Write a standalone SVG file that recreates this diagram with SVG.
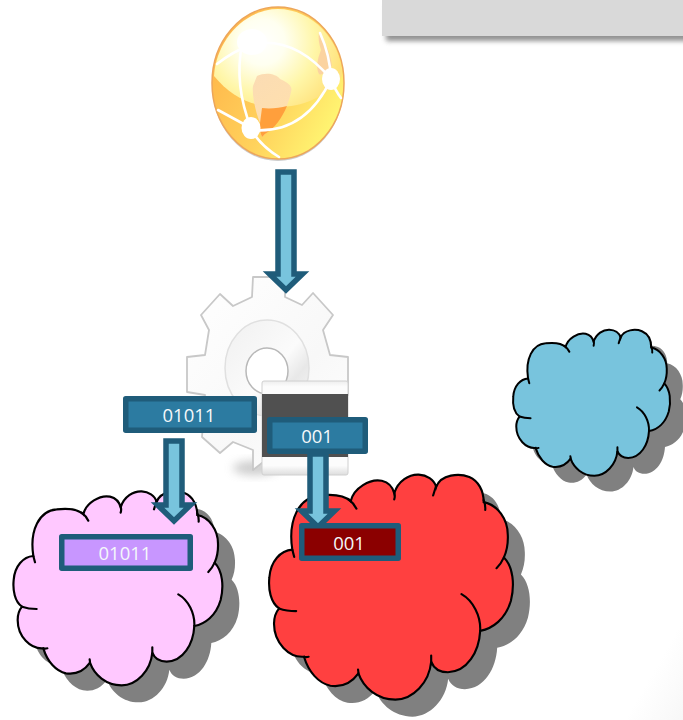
<svg xmlns="http://www.w3.org/2000/svg" width="683" height="720" viewBox="0 0 683 720">
<style>
.txt{font-family:"Open Sans","Liberation Sans",sans-serif;font-size:18.5px;fill:#f4f8fa;text-anchor:middle}
.box{stroke:#1f5c7a;stroke-width:5.5;stroke-linejoin:round}
.blue{fill:#2c7ba1}
.arrow{fill:#78c4dd;stroke:#1f5c7a;stroke-width:5.5;stroke-linejoin:miter;stroke-miterlimit:8}
.shadow{fill:#808080}
.net{fill:none;stroke:#fff;stroke-width:2.6;stroke-linecap:round}
</style>
<defs>
<path id="cloud" d="M100,228C88,150 118,92 170,88C205,84 235,88 250,103C258,68 300,44 330,50C346,54 358,66 362,82C372,50 400,33 425,34C445,35 465,46 470,66C482,32 530,30 555,40C578,50 592,75 592,105C628,112 654,150 654,190C655,212 652,230 644,248C668,272 672,320 662,360C648,408 615,432 583,438C580,492 550,544 500,545C480,545 464,536 457,518C452,572 410,616 365,616C318,616 283,585 270,548C250,576 225,584 198,580C168,574 142,545 130,505C92,508 53,470 53,420C53,405 56,392 66,380C44,365 38,330 41,300C44,258 70,230 100,228Z"/>
<path id="tails" fill="none" stroke-linecap="round" d="M100,228L105,247M245,98Q258,108 265,122M362,80Q365,88 362,98M470,62Q466,75 462,88M592,100Q597,112 596,125M644,248Q637,264 625,276M535,343C565,360 585,400 583,438M457,502L457,525M270,548Q270,544 269,538M130,505Q135,507 142,505M66,380Q85,387 110,387"/>
<filter id="blur3" x="-20%" y="-50%" width="140%" height="200%"><feGaussianBlur stdDeviation="2.500"/></filter>
<filter id="blur1" x="-20%" y="-20%" width="140%" height="140%"><feGaussianBlur stdDeviation="0.7"/></filter>
<filter id="blur6" x="-50%" y="-50%" width="200%" height="200%"><feGaussianBlur stdDeviation="5"/></filter>
<linearGradient id="globeBase" x1="0" y1="0.3" x2="1" y2="0.9"><stop offset="0" stop-color="#ffb64a"/><stop offset="0.5" stop-color="#ffd25c"/><stop offset="1" stop-color="#ffff78"/></linearGradient>
<radialGradient id="globeTop" gradientUnits="userSpaceOnUse" cx="262" cy="42" r="82"><stop offset="0" stop-color="#ffffff"/><stop offset="0.28" stop-color="#fffff0"/><stop offset="0.65" stop-color="#fff6a8"/><stop offset="1" stop-color="#ffe27c"/></radialGradient>
<linearGradient id="land" x1="0" y1="0" x2="0.5" y2="1"><stop offset="0" stop-color="#fbdcb4"/><stop offset="1" stop-color="#ffe0ac"/></linearGradient>
<linearGradient id="gearFill" x1="0" y1="0" x2="1" y2="1"><stop offset="0" stop-color="#ffffff"/><stop offset="0.6" stop-color="#f8f8f8"/><stop offset="1" stop-color="#ffffff"/></linearGradient>
<linearGradient id="ring" x1="0" y1="0" x2="1" y2="1"><stop offset="0" stop-color="#f0f0f0"/><stop offset="0.55" stop-color="#fbfbfb"/><stop offset="0.72" stop-color="#e8e8e8"/><stop offset="1" stop-color="#fafafa"/></linearGradient>
<linearGradient id="tile" x1="0" y1="0" x2="0" y2="1"><stop offset="0" stop-color="#eeeeee"/><stop offset="0.06" stop-color="#fcfcfc"/><stop offset="0.9" stop-color="#fcfcfc"/><stop offset="1" stop-color="#dddddd"/></linearGradient>
<linearGradient id="corner" gradientUnits="userSpaceOnUse" x1="654" y1="670" x2="704" y2="699"><stop offset="0" stop-color="#ffffff"/><stop offset="1" stop-color="#f6f6f6"/></linearGradient>
</defs>

<polygon points="683,620 683,720 625,720" fill="url(#corner)"/>

<g id="banner">
<rect x="386" y="6" width="310" height="35" fill="#777" opacity="0.8" filter="url(#blur3)"/>
<rect x="382" y="-5" width="310" height="41" fill="#d9d9d9"/>
</g>

<g id="globe">
<ellipse cx="278" cy="85" rx="66" ry="76" fill="#999" opacity="0.5" filter="url(#blur1)"/>
<ellipse cx="278" cy="83" rx="66" ry="76" fill="url(#globeBase)" stroke="#eda65a" stroke-width="1.5"/>
<path d="M214,76C216,40 245,9 278,9C312,9 341,40 342,76C325,98 302,107 278,107C254,107 232,98 214,76Z" fill="url(#globeTop)"/>
<path d="M257,76C266,72 276,74 280,79C289,83 293,87 291,92C288,108 280,120 272,127L262,137C260,133 260,128 260,123C255,110 252,95 253,86Z" fill="url(#land)"/>
<path d="M262,108C270,109 280,108 287,106C282,118 275,128 265,134L262,137C260,133 260,128 260,123Z" fill="#ff9f3c"/>
<path d="M319,32C325,40 331,55 332,66C325,72 322,76 319,74C316,68 317,60 321,50C319,44 318,38 319,32Z" fill="#fbd3a0"/>
<g class="net">
<path d="M217,64Q232,52 252,44Q295,36 331,79"/>
<path d="M242,44Q234,85 251,128"/>
<path d="M251,130Q305,135 331,79"/>
<path d="M218,110L251,128"/>
<path d="M251,130Q262,147 279,157"/>
<path d="M320,33Q330,55 331,79Q335,90 341,98"/>
</g>
<ellipse cx="252" cy="42" rx="15" ry="13" fill="#fff" filter="url(#blur1)"/>
<ellipse cx="331" cy="79" rx="9" ry="11" fill="#fff"/>
<ellipse cx="251" cy="128" rx="9.500" ry="11" fill="#fff"/>
</g>

<g id="gear">
<ellipse cx="255" cy="468" rx="22" ry="7" fill="#aaa" opacity="0.6" filter="url(#blur6)"/>
<path d="M253,277H285V297L302,305L313,293L333,315L323,330L330,355L348,357V395L330,410L253,470V450L233,442L220,453L202,437L205,395L187,392V357L205,355L209,330L201,315L220,294L233,306L252,297Z" fill="url(#gearFill)" stroke="#c8c8c8" stroke-width="1.800" stroke-linejoin="round" filter="url(#blur1)"/>
<ellipse cx="267" cy="368" rx="42" ry="48" fill="url(#ring)" stroke="#e0e0e0" stroke-width="1.500"/>
<ellipse cx="267" cy="371" rx="21" ry="23" fill="#fff" stroke="#b8b8b8" stroke-width="1.500"/>
<rect x="262" y="381" width="86" height="94" rx="2" fill="url(#tile)" stroke="#d0d0d0" stroke-width="1"/>
<rect x="262" y="394" width="86" height="63" fill="#505050"/>
</g>

<g id="cloud-blue">
<use href="#cloud" class="shadow" transform="translate(519 337) scale(0.2504 0.2509)"/>
<g fill="#78c4dd" stroke="#000" stroke-width="8" transform="translate(503 321.200) scale(0.2504 0.2509)"><use href="#cloud"/><use href="#tails"/></g>
</g>
<g id="cloud-pink">
<use href="#cloud" class="shadow" transform="translate(17 497) scale(0.3333)"/>
<g fill="#ffc8ff" stroke="#000" stroke-width="6.500" transform="translate(0 480) scale(0.3333)"><use href="#cloud"/><use href="#tails"/></g>
</g>
<g id="cloud-red">
<use href="#cloud" class="shadow" transform="translate(270.400 478.500) scale(0.389 0.3866)"/>
<g fill="#ff4040" stroke="#000" stroke-width="5.500" transform="translate(253.400 461.500) scale(0.389 0.3866)"><use href="#cloud"/><use href="#tails"/></g>
</g>

<g id="connectors">
<path class="arrow" d="M278,172H294V274H302.500L286,290L269.500,274H278Z"/>
<path class="arrow" d="M166,441H182V505H190.500L174,521L157.500,505H166Z"/>
<path class="arrow" d="M310,454H326V511H334.500L318,527L301.500,511H310Z"/>
</g>

<g id="box-01011-top">
<rect class="box blue" x="125.750" y="398.750" width="128.500" height="31.500"/>
<text class="txt" x="189" y="422">01011</text>
</g>
<g id="box-001-top">
<rect class="box blue" x="269.750" y="419.750" width="95.500" height="31.500"/>
<text class="txt" x="317" y="443">001</text>
</g>
<g id="box-01011-bottom">
<rect class="box" fill="#c896ff" x="61.750" y="536.750" width="128.500" height="31.500"/>
<text class="txt" x="125" y="560">01011</text>
</g>
<g id="box-001-bottom">
<rect class="box" fill="#8b0000" x="301.750" y="525.750" width="96.500" height="32.500"/>
<text class="txt" x="349" y="550">001</text>
</g>
</svg>
